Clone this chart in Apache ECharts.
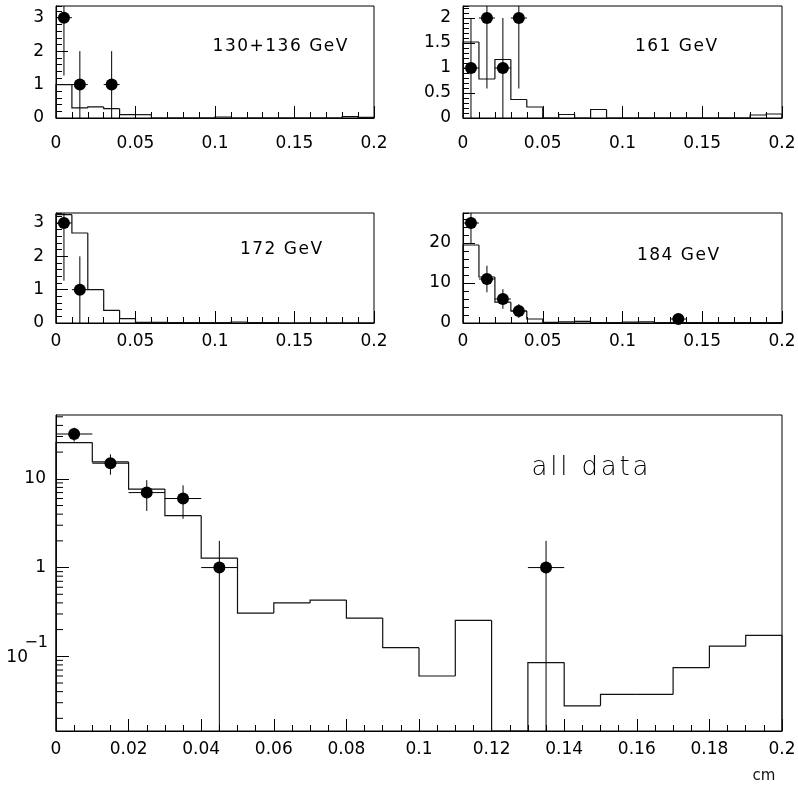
<!DOCTYPE html>
<html><head><meta charset="utf-8">
<script src="https://cdn.jsdelivr.net/npm/echarts@6/dist/echarts.min.js"></script>
<style>html,body{margin:0;padding:0;background:#fff}#c{width:798px;height:786px}</style>
</head><body><div id="c"></div>
<script>
// ---- data ----
const binLow  = [0,0.01,0.02,0.03,0.04,0.05,0.06,0.07,0.08,0.09,0.10,0.11,0.12,0.13,0.14,0.15,0.16,0.17,0.18,0.19];
const binHigh = [0.01,0.02,0.03,0.04,0.05,0.06,0.07,0.08,0.09,0.10,0.11,0.12,0.13,0.14,0.15,0.16,0.17,0.18,0.19,0.20];

const hist130 = [1.0,0.30,0.33,0.28,0.10,0.10,0,0,0,0,0.03,0,0,0,0,0,0,0,0.04,0.02];
const hist161 = [1.52,0.78,1.17,0.37,0.22,0,0.07,0,0.17,0,0,0,0,0,0,0,0,0,0.06,0.08];
const hist172 = [3.25,2.70,1.00,0.38,0.13,0.02,0.02,0.01,0.01,0.01,0.01,0.03,0.01,0.01,0,0,0,0,0,0];
const hist184 = [19.5,11.5,5.2,3.0,1.0,0.15,0.3,0.4,0.1,0.1,0.2,0.3,0.1,0.1,0.1,0.1,0.1,0.1,0.1,0.1];
const histAll = [25.6,15.5,7.66,3.84,1.28,0.307,0.40,0.43,0.27,0.125,0.060,0.254,0,0.085,0.0277,0.0372,0.0372,0.0746,0.13,0.172];

const x130 = [0.005,0.015,0.035];             const y130 = [3,1,1];           const e130 = [1.73,1,1];
const x161 = [0.005,0.015,0.025,0.035];       const y161 = [1,2,1,2];         const e161 = [1,1.41,1,1.41];
const x172 = [0.005,0.015];                   const y172 = [3,1];             const e172 = [1.73,1];
const x184 = [0.005,0.015,0.025,0.035,0.135]; const y184 = [25,11,6,3,1];     const e184 = [5,3.32,2.45,1.73,1];
const xAll = [0.005,0.015,0.025,0.035,0.045,0.135]; const yAll = [32,15,7,6,1,1]; const eAll = [5.66,3.87,2.65,2.45,1,1];

const labels = ['130+136 GeV','161 GeV','172 GeV','184 GeV','all data'];
const logExpTicks = [0.1];   // log-axis ticks written as powers of ten
const xHalf = 0.005;

// ---- layout ----
const FONT = 'DejaVu Sans';
const grids = [
  {left:56,  top:6,   width:318, height:112},
  {left:463, top:6,   width:319, height:112},
  {left:56,  top:213, width:318, height:110},
  {left:463, top:213, width:319, height:110},
  {left:56,  top:415, width:726, height:316}
];
const yMax   = [3.35, 2.24, 3.3, 27.5];
const yMajor = [1, 0.5, 1, 10];
const yMinor = [0.2, 0.1, 0.2, 2];
const xMargin = [17, 17, 10, 10, 10];

const lab = {color:'#000', fontFamily:FONT, fontSize:17};

const xAxes = grids.map((g,i)=>({
  type:'value', gridIndex:i, min:0, max:0.2, interval: i<4 ? 0.05 : 0.02,
  axisLine:{show:true, lineStyle:{color:'#000', width:1}},
  axisTick:{show:true, inside:true, length:12, lineStyle:{color:'#000'}},
  minorTick:{show:true, splitNumber: i<4 ? 5 : 4, length:6, lineStyle:{color:'#000'}},
  splitLine:{show:false},
  axisLabel:Object.assign({margin:xMargin[i]}, lab)
}));

const yAxes = [];
for (let i=0;i<4;i++){
  yAxes.push({
    type:'value', gridIndex:i, position:'left', min:0, max:yMax[i], interval:yMajor[i],
    axisLine:{show:true, lineStyle:{color:'#000'}},
    axisTick:{show:true, inside:true, length:12, lineStyle:{color:'#000'}},
    splitLine:{show:false},
    axisLabel:Object.assign({margin:12, showMaxLabel:false,
      formatter: v => (Math.abs(v/yMajor[i]-Math.round(v/yMajor[i]))<1e-6) ? String(+v.toFixed(2)) : ''}, lab)
  });
  yAxes.push({
    type:'value', gridIndex:i, position:'left', offset:0, min:0, max:yMax[i], interval:yMinor[i],
    axisLine:{show:false}, axisLabel:{show:false}, splitLine:{show:false},
    axisTick:{show:true, inside:true, length:6, lineStyle:{color:'#000'}}
  });
}
// log axis for "all data"
yAxes.push({
  type:'log', logBase:10, gridIndex:4, position:'left', min:0.0144, max:52.4,
  axisLine:{show:true, lineStyle:{color:'#000'}},
  axisTick:{show:true, inside:true, length:13, lineStyle:{color:'#000'}},
  splitLine:{show:false},
  axisLabel:{margin:10, showMinLabel:false, showMaxLabel:false, color:'#000', fontFamily:FONT, fontSize:17,
    formatter: v => { const k = Math.round(Math.log10(v)); if (Math.abs(Math.log10(v)-k)>1e-6) return '';
      return k>=0 ? String(Math.round(v)) : ''; } }
});
const logAxisIdx = 8;
const yIdx = [0,2,4,6,logAxisIdx];

// minor ticks for log axis (2..9 per decade)
const logMinor = [];
[0.01,0.1,1,10].forEach(d => [2,3,4,5,6,7,8,9].forEach(m => logMinor.push(+(d*m).toPrecision(3))));

function histSeries(g, vals){
  return {
    type:'custom', xAxisIndex:g, yAxisIndex:yIdx[g], z:3, silent:true,
    data: vals.map((v,i)=>[binLow[i], binHigh[i], v]),
    renderItem(params, api){
      const cs = params.coordSys, base = cs.y + cs.height;
      const Y = v => { if (v<=0) return base; let y = api.coord([0.1, v])[1]; return Math.min(base, Math.max(cs.y, y)); };
      const i = params.dataIndex;
      const xl = api.coord([api.value(0), 1])[0], xr = api.coord([api.value(1), 1])[0];
      const prev = i>0 ? vals[i-1] : 0;
      const y = Y(api.value(2));
      const pts = [[xl, Y(prev)], [xl, y], [xr, y]];
      if (i === vals.length-1) pts.push([xr, base]);
      return {type:'polyline', shape:{points:pts}, style:{stroke:'#111', lineWidth:1.2, fill:null}};
    }
  };
}
function errSeries(g, xs, ys, es){
  return {
    type:'custom', xAxisIndex:g, yAxisIndex:yIdx[g], z:4, silent:true,
    data: xs.map((x,i)=>[x, ys[i], es[i]]),
    renderItem(params, api){
      const cs = params.coordSys, base = cs.y + cs.height;
      const x = api.value(0), y = api.value(1), e = api.value(2);
      const p = api.coord([x, y]);
      const clampY = v => Math.min(base, Math.max(cs.y, v));
      const top = clampY(api.coord([x, y+e])[1]);
      const bot = (y-e <= 0) ? base : clampY(api.coord([x, y-e])[1]);
      const xl = api.coord([x-xHalf, y])[0], xr = api.coord([x+xHalf, y])[0];
      return {type:'group', children:[
        {type:'line', shape:{x1:p[0], y1:top, x2:p[0], y2:bot}, style:{stroke:'#000', lineWidth:1}},
        {type:'line', shape:{x1:xl, y1:p[1], x2:xr, y2:p[1]}, style:{stroke:'#000', lineWidth:1}}
      ]};
    }
  };
}
function ptSeries(g, xs, ys){
  return {type:'scatter', xAxisIndex:g, yAxisIndex:yIdx[g], z:5, silent:true, symbol:'circle', symbolSize:12,
    itemStyle:{color:'#000', opacity:1, borderWidth:0}, data: xs.map((x,i)=>[x, ys[i]])};
}

const hists = [hist130, hist161, hist172, hist184, histAll];
const pX = [x130,x161,x172,x184,xAll], pY=[y130,y161,y172,y184,yAll], pE=[e130,e161,e172,e184,eAll];
const series = [];
for (let g=0; g<5; g++){
  series.push(histSeries(g, hists[g]));
  series.push(errSeries(g, pX[g], pY[g], pE[g]));
  series.push(ptSeries(g, pX[g], pY[g]));
}
// log minor ticks
series.push({
  type:'custom', xAxisIndex:4, yAxisIndex:logAxisIdx, z:6, silent:true,
  data: logMinor.map(v=>[0, v]),
  renderItem(params, api){
    const cs = params.coordSys;
    const y = api.coord([0, api.value(1)])[1];
    if (y < cs.y || y > cs.y + cs.height) return null;
    return {type:'line', shape:{x1:cs.x, y1:y, x2:cs.x+7, y2:y}, style:{stroke:'#000', lineWidth:1}};
  }
});
// power-of-ten tick labels (10^-1)
series.push({
  type:'custom', xAxisIndex:4, yAxisIndex:logAxisIdx, z:6, silent:true,
  data: logExpTicks.map(v=>[0, v]),
  renderItem(params, api){
    const cs = params.coordSys;
    const v = api.value(1);
    const k = Math.round(Math.log10(v));
    const y = api.coord([0, v])[1];
    return {type:'group', children:[
      {type:'text', x:cs.x-28, y:y+1, style:{text:'10', align:'right', verticalAlign:'middle', fontFamily:FONT, fontSize:17, fill:'#000'}},
      {type:'text', x:cs.x-8, y:y-13, style:{text:'\u2212'+(-k), align:'right', verticalAlign:'middle', fontFamily:FONT, fontSize:16, fill:'#000'}}
    ]};
  }
});

function spaced(txt){ return txt.split('').map(c => c===' ' ? '{w| }' : '{c|'+c+'}').join(''); }
function label(txt, cx, cy, size, sp, weight){
  return {type:'text', x:cx, y:cy, z:10, style:{
    text: spaced(txt), align:'center', verticalAlign:'middle',
    rich:{ c:{fontFamily:FONT, fontSize:size, fontWeight:weight||'normal', color:'#111', padding:[0,sp/2,0,sp/2]},
           w:{fontFamily:FONT, fontSize:size, color:'#111', padding:[0,sp/2,0,sp/2]} } }};
}

const option = {
  animation:false,
  backgroundColor:'#fff',
  grid: grids.map(g => Object.assign({show:true, borderColor:'#000', borderWidth:1, backgroundColor:'transparent',
                                      containLabel:false, outerBoundsMode:'none'}, g)),
  xAxis: xAxes,
  yAxis: yAxes,
  series: series,
  graphic: [
    label(labels[0], 280, 47, 17, 1.5),
    label(labels[1], 676, 47, 17, 1.5),
    label(labels[2], 281, 250, 17, 1.5),
    label(labels[3], 678, 256, 17, 1.5),
    label(labels[4], 590, 468, 26, 2.8, 200),
    {type:'text', x:764, y:776, style:{text:'cm', align:'center', verticalAlign:'middle', fontFamily:FONT, fontSize:15, fill:'#111'}}
  ]
};
echarts.init(document.getElementById('c'), null, {renderer:'canvas'}).setOption(option);
</script>
</body></html>
